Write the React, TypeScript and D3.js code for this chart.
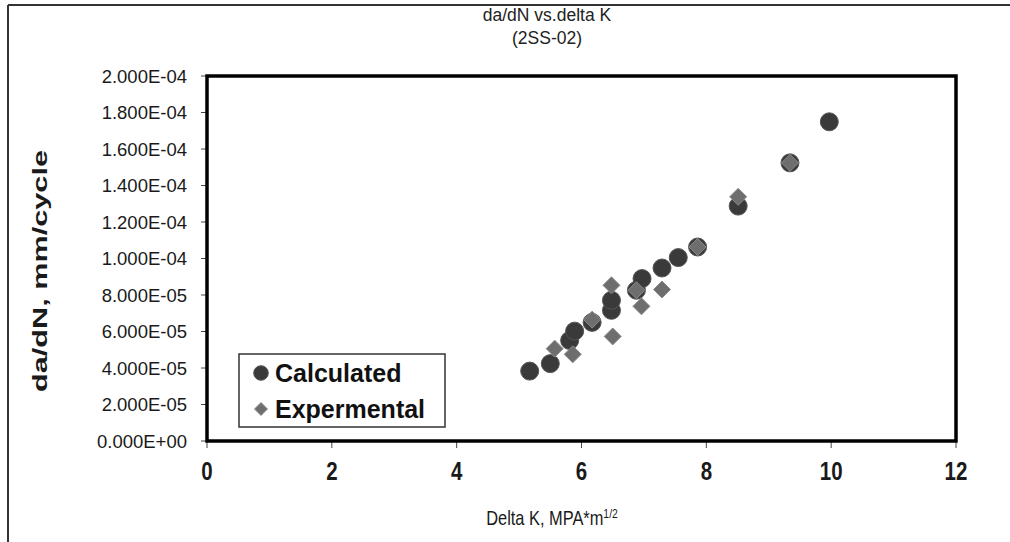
import React from "react";
import * as d3 from "d3";

const calcX = [5.17, 5.5, 5.81, 5.89, 6.17, 6.48, 6.48, 6.88, 6.97, 7.29, 7.55, 7.86, 8.51, 9.34, 9.97];
const calcY = [38.3e-6, 42.4e-6, 55.1e-6, 60.2e-6, 65.0e-6, 71.6e-6, 77.1e-6, 82.6e-6, 89.0e-6, 94.8e-6, 100.5e-6, 106.3e-6, 128.7e-6, 152.4e-6, 174.9e-6];
const expX = [5.57, 5.86, 6.17, 6.5, 6.48, 6.88, 6.96, 7.29, 7.86, 8.51, 9.34];
const expY = [50.6e-6, 47.5e-6, 66.5e-6, 57.3e-6, 85.3e-6, 82.6e-6, 73.8e-6, 83.0e-6, 106.3e-6, 133.8e-6, 152.4e-6];
const xTicks = [0, 2, 4, 6, 8, 10, 12];
const yTicks = [0, 2e-5, 4e-5, 6e-5, 8e-5, 1e-4, 1.2e-4, 1.4e-4, 1.6e-4, 1.8e-4, 2e-4];
const yTickLabels = ["0.000E+00", "2.000E-05", "4.000E-05", "6.000E-05", "8.000E-05", "1.000E-04", "1.200E-04", "1.400E-04", "1.600E-04", "1.800E-04", "2.000E-04"];
const titleLines = ["da/dN vs.delta K", "(2SS-02)"];
const legendLabels = ["Calculated", "Expermental"];

const W = 1010, H = 542;
const L = 207, R = 956, T = 76, B = 441;

export default function App() {
  const x = d3.scaleLinear().domain([0, 12]).range([L, R]);
  const y = d3.scaleLinear().domain([0, 2e-4]).range([B, T]);
  const diamond = (cx: number, cy: number, s: number) =>
    `M${cx},${cy - s}L${cx + s},${cy}L${cx},${cy + s}L${cx - s},${cy}Z`;
  const font = "'Liberation Sans', Arial, sans-serif";
  return (
    <svg width={W} height={H} style={{ position: "absolute", left: 0, top: 0 }}>
      <rect x={0} y={0} width={W} height={H} fill="#fff" />
      <line x1={8} y1={5} x2={8} y2={H} stroke="#333" strokeWidth={2} />
      <line x1={8} y1={5} x2={W} y2={5} stroke="#333" strokeWidth={2} />
      {titleLines.map((t, i) => (
        <text key={t} x={547} y={21 + i * 23} textAnchor="middle" fontFamily={font} fontSize={17.5} fill="#222">{t}</text>
      ))}
      {yTicks.map((v, i) => (
        <g key={"y" + i}>
          <line x1={L - 6} x2={L} y1={y(v)} y2={y(v)} stroke="#444" strokeWidth={1} />
          <text x={187} y={y(v) + 6.5} textAnchor="end" fontFamily={font} fontSize={18.5} fill="#1a1a1a">{yTickLabels[i]}</text>
        </g>
      ))}
      {xTicks.map((v) => (
        <g key={"x" + v}>
          <line x1={x(v)} x2={x(v)} y1={B} y2={B + 7} stroke="#444" strokeWidth={1} />
          <text transform={`translate(${x(v)},480) scale(0.82,1)`} textAnchor="middle" fontFamily={font} fontWeight="bold" fontSize={25} fill="#1a1a1a">{v}</text>
        </g>
      ))}
      <text transform="translate(552,525) scale(0.8,1)" textAnchor="middle" fontFamily={font} fontSize={20.5} fill="#1a1a1a">
        Delta K, MPA*m<tspan dy={-7} fontSize={13}>1/2</tspan>
      </text>
      <text transform={`translate(47,271) rotate(-90)`} textAnchor="middle" fontFamily={font} fontWeight="bold" fontSize={20} textLength={242} lengthAdjust="spacingAndGlyphs" fill="#1a1a1a">da/dN, mm/cycle</text>
      <rect x={L} y={T} width={R - L} height={B - T} fill="none" stroke="#000" strokeWidth={3.5} />
      {calcX.map((v, i) => (
        <circle key={"c" + i} cx={x(v)} cy={y(calcY[i])} r={9} fill="#3a3a3a" stroke="#555" strokeWidth={1} />
      ))}
      {expX.map((v, i) => (
        <path key={"d" + i} d={diamond(x(v), y(expY[i]), 8.5)} fill="#6e6e6e" stroke="#8c8c8c" strokeWidth={1} />
      ))}
      <rect x={239} y={354} width={206} height={73} fill="#fff" stroke="#333" strokeWidth={1.5} />
      <circle cx={261} cy={373} r={7.3} fill="#3a3a3a" stroke="#555" strokeWidth={1} />
      <path d={diamond(261, 409, 6.5)} fill="#6e6e6e" stroke="#8c8c8c" strokeWidth={1} />
      {legendLabels.map((t, i) => (
        <text key={t} x={275} y={382 + i * 36} fontFamily={font} fontWeight="bold" fontSize={25} fill="#111">{t}</text>
      ))}
    </svg>
  );
}
